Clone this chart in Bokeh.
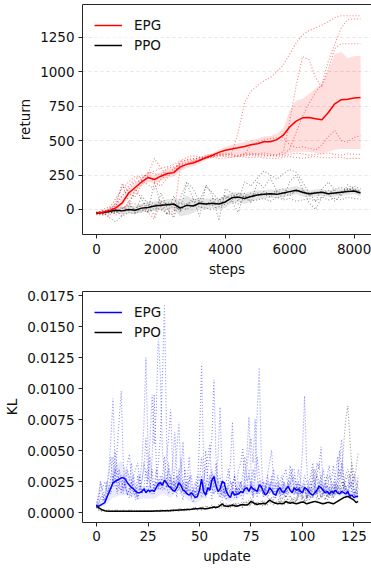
from bokeh.plotting import figure
from bokeh.layouts import column
from bokeh.models import Range1d, FixedTicker, Legend, LegendItem, LinearAxis
from bokeh.embed import file_html
from bokeh.resources import INLINE

FONT = "DejaVu Sans"
SPINE = "#262626"

# ---------------- top panel: return vs steps ----------------
STEPS = [0, 200, 400, 600, 800, 1000, 1200, 1400, 1600, 1800, 2000, 2200, 2400, 2600,
         2800, 3000, 3200, 3400, 3600, 3800, 4000, 4200, 4400, 4600, 4800, 5000, 5200,
         5400, 5600, 5800, 6000, 6200, 6400, 6600, 6800, 7000, 7200, 7400, 7600, 7800,
         8000, 8200]

EPG_MEAN = [-25, -20, -8, 12, 48, 120, 160, 200, 232, 218, 242, 262, 268, 310, 328, 338,
            356, 378, 394, 415, 430, 440, 448, 458, 470, 478, 492, 492, 508, 540, 600, 642,
            666, 668, 660, 652, 705, 768, 798, 802, 810, 814]
EPG_LO = [-35, -30, -20, -10, 20, 90, 130, 170, 200, 190, 210, 230, 240, 280, 300, 315,
          335, 360, 378, 395, 400, 405, 400, 398, 395, 395, 395, 392, 392, 395, 410, 420,
          420, 418, 410, 405, 420, 435, 440, 440, 440, 440]
EPG_HI = [-15, -10, 5, 35, 80, 150, 190, 230, 262, 250, 275, 295, 300, 340, 356, 360,
          378, 396, 410, 435, 455, 470, 480, 490, 505, 515, 530, 535, 550, 590, 720, 790,
          805, 840, 880, 915, 1010, 1130, 1145, 1100, 1115, 1118]
EPG_RUN1 = [-30, -20, 10, 80, 150, 200, 240, 230, 260, 280, 300, 310, 330, 350, 360, 370,
            375, 380, 385, 390, 395, 410, 560, 780, 860, 900, 935, 960, 1000, 1050, 1130,
            1210, 1270, 1300, 1320, 1340, 1365, 1395, 1408, 1408, 1408, 1408]
EPG_RUN2 = [-20, -40, -10, 30, 100, 170, 220, 250, 240, 200, 170, 230, 290, 350, 380, 390,
            380, 370, 390, 400, 395, 390, 385, 390, 395, 390, 388, 392, 395, 400, 440, 560,
            680, 770, 850, 910, 1080, 1200, 1320, 1380, 1385, 1385]
EPG_RUN3 = [-40, -30, -50, 20, 190, 120, 90, 180, 260, 370, 300, 250, 270, 340, 360, 370,
            365, 380, 390, 395, 400, 398, 392, 396, 400, 405, 410, 402, 398, 420, 640, 900,
            1110, 1090, 960, 890, 1020, 1170, 1205, 1205, 1205, 1205]
EPG_RUN4 = [-30, 0, 20, 0, -20, 60, 120, 220, 270, 260, 250, 300, 310, 320, 330, 350,
            360, 375, 385, 390, 385, 380, 390, 400, 470, 490, 505, 515, 520, 525, 470, 450,
            455, 445, 430, 470, 530, 575, 500, 490, 525, 535]
EPG_RUN5 = [-25, -30, -10, -40, 0, 50, 40, 20, -20, -70, 60, -30, -40, 300, 330, 350,
            360, 370, 380, 370, 375, 380, 385, 380, 378, 382, 375, 372, 370, 380, 385, 378,
            372, 380, 385, 378, 375, 380, 378, 370, 372, 370]
EPG_RUN6 = [-20, -10, 0, 40, 100, 150, 200, 210, 180, 150, 220, 260, 300, 330, 340, 360,
            380, 395, 400, 405, 410, 400, 395, 405, 410, 400, 395, 390, 385, 390, 400, 410,
            405, 395, 400, 405, 410, 400, 395, 405, 402, 400]

PPO_MEAN = [-25, -22, -15, -5, -10, 0, -5, 10, 15, 25, 30, 35, 40, 10, 30, 25, 45, 40, 45,
            40, 55, 85, 90, 80, 95, 105, 110, 115, 110, 120, 130, 140, 125, 115, 120, 125,
            115, 120, 125, 130, 135, 120]
PPO_HW = [5, 8, 15, 20, 25, 30, 30, 30, 35, 35, 35, 40, 40, 60, 70, 50, 40, 40, 35, 40, 45,
          40, 35, 40, 35, 35, 30, 30, 30, 30, 30, 30, 30, 25, 25, 25, 25, 25, 25, 25, 25, 25]
PPO_RUN1 = [-30, -20, -60, -90, -40, 20, 150, 80, -20, 200, 30, -40, 100, -20, 190, 80,
            -50, 180, 100, -80, 150, 120, 60, 200, 170, 230, 280, 250, 220, 260, 290, 270,
            200, 120, 60, 150, 200, 140, 100, 180, 150, 130]
PPO_RUN2 = [-20, -30, 0, 50, 180, 60, -30, 100, 40, -50, 120, 10, -60, 80, 200, 150, 60,
            170, 120, 70, 100, 60, -20, 120, 50, 200, 160, 230, 130, 80, 200, 250, 150, 50,
            0, 90, 120, 60, 110, 150, 140, 120]
PPO_RUN3 = [-25, -10, -20, -30, 20, -10, 10, 30, 60, 40, 20, 50, 30, -10, 40, 60, 50, 30,
            80, 60, 100, 70, 120, 90, 100, 120, 110, 90, 130, 120, 100, 140, 120, 110, 130,
            120, 140, 110, 130, 150, 140, 130]
PPO_RUN4 = [-35, -40, -30, -10, -50, -20, -30, 0, -20, 10, 0, -30, -10, 20, 0, 30, 20, 10,
            0, 20, 40, 60, 40, 80, 60, 70, 80, 60, 90, 70, 80, 60, 70, 80, 60, 90, 70, 80,
            70, 90, 80, 75]
PPO_RUN5 = [-20, -25, -10, -20, 10, 30, 0, -20, 40, 20, 60, 40, 10, 50, 30, 80, 60, 40, 30,
            50, 80, 100, 110, 90, 120, 100, 130, 110, 140, 150, 120, 130, 140, 100, 120, 130,
            110, 150, 160, 140, 170, 150]

RETURN_TICKS = [0, 250, 500, 750, 1000, 1250]
STEP_TICKS = [0, 2000, 4000, 6000, 8000]

# ---------------- bottom panel: KL vs update (values in units of 1e-4) ----------------
KL_UNIT = 1e-4
UPDATES = list(range(128))

KL_EPG_MEAN = [6, 5, 6, 7, 8, 12, 16, 20, 24, 25, 26, 27, 28, 28, 27, 24,
               22, 20, 19, 17, 16, 16, 17, 19, 16, 18, 17, 18, 17, 20, 23, 24,
               22, 26, 24, 21, 20, 18, 17, 20, 24, 22, 18, 17, 15, 14, 16, 14,
               12, 13, 18, 27, 17, 14, 20, 18, 26, 29, 22, 17, 19, 25, 24, 17,
               14, 12, 17, 14, 15, 15, 17, 16, 19, 20, 17, 21, 19, 18, 17, 22,
               21, 17, 14, 16, 20, 18, 15, 14, 18, 20, 17, 16, 19, 21, 18, 16,
               20, 18, 19, 17, 16, 20, 19, 17, 15, 14, 16, 18, 21, 20, 18, 16,
               17, 15, 17, 16, 18, 16, 15, 17, 16, 15, 17, 13, 14, 12, 13, 13]
KL_PPO_MEAN = [5, 4, 3, 2, 1.5, 1.2, 1, 1, 1, 1, 1, 1, 1, 1, 1, 1,
               1, 1, 1, 1, 1, 1, 1, 1, 1, 1, 1.1, 1.1, 1.2, 1.2, 1.3, 1.3,
               1.4, 1.4, 1.5, 1.5, 1.6, 1.7, 1.8, 1.9, 2, 2, 2.2, 2.3, 2.4, 2.5, 2.6, 2.8,
               3, 3, 3.2, 3.5, 3.2, 3, 3.3, 3.6, 4, 4.5, 4, 4.5, 5.5, 7, 5.5, 5,
               5, 5.5, 6, 5.5, 5, 5.5, 6, 6.5, 6, 6, 7, 9, 8, 7, 6.5, 7,
               7, 7.5, 7, 8.5, 10, 9, 8, 7.5, 7, 7.5, 7, 7.5, 9, 8, 7.5, 8,
               7.5, 7, 7.5, 8, 8.5, 8, 7, 7.5, 8, 8.5, 9, 8.5, 8, 7.5, 7, 7.5,
               8, 8, 7.5, 7, 8, 9, 10, 11, 12, 12.5, 13, 12, 11, 10, 8, 9]
KL_BAND_UPDATES = [0, 4, 8, 12, 16, 20, 24, 28, 32, 36, 40, 44, 48, 52, 56, 60, 64,
                   68, 72, 76, 80, 84, 88, 92, 96, 100, 104, 108, 112, 116, 120, 124, 127]
KL_EPG_BAND_HW = [1, 3, 12, 14, 8, 5, 5, 6, 7, 8, 6, 5, 5, 6, 7, 6, 5, 5, 4, 5, 5, 4, 5,
                  4, 5, 5, 4, 5, 4, 4, 4, 3, 3]

KL_EPG_RUN1 = [6, 10, 25, 12, 8, 20, 35, 60, 92, 40, 15, 22, 30, 18, 25, 14,
               20, 12, 30, 18, 10, 25, 40, 70, 125, 50, 20, 35, 15, 28, 40, 60,
               110, 168, 60, 20, 30, 15, 25, 12, 35, 18, 10, 25, 14, 30, 12, 8,
               15, 20, 60, 119, 40, 12, 18, 25, 10, 30, 22, 15, 12, 20, 18, 10,
               25, 40, 73, 30, 12, 20, 15, 10, 22, 18, 35, 20, 12, 40, 80, 117,
               45, 15, 20, 12, 18, 25, 10, 14, 20, 16, 12, 25, 18, 14, 22, 30,
               15, 20, 12, 25, 50, 94, 40, 15, 20, 12, 18, 10, 22, 16, 14, 20,
               12, 18, 25, 15, 20, 30, 45, 59, 25, 15, 18, 12, 20, 14, 16, 12]
KL_EPG_RUN2 = [5, 8, 12, 10, 15, 25, 18, 30, 45, 25, 50, 75, 98, 40, 20, 15,
               12, 25, 18, 10, 22, 30, 15, 20, 35, 25, 60, 95, 55, 80, 145, 110,
               50, 30, 20, 40, 25, 18, 35, 50, 73, 30, 20, 15, 25, 18, 12, 20,
               14, 25, 18, 30, 15, 20, 35, 45, 60, 107, 45, 20, 15, 25, 12, 18,
               22, 15, 20, 30, 12, 18, 25, 15, 30, 45, 77, 35, 15, 20, 12, 25,
               18, 14, 22, 15, 20, 30, 18, 12, 25, 15, 20, 12, 18, 25, 30, 35,
               35, 20, 15, 22, 18, 25, 12, 20, 15, 30, 18, 40, 35, 53, 20, 15,
               22, 14, 18, 25, 15, 20, 35, 28, 18, 22, 15, 25, 18, 12, 20, 15]
KL_EPG_RUN3 = [4, 6, 10, 15, 8, 12, 20, 15, 30, 22, 18, 35, 25, 15, 30, 40,
               47, 25, 15, 20, 12, 18, 25, 40, 30, 20, 15, 45, 95, 40, 20, 25,
               18, 30, 45, 60, 83, 35, 20, 25, 18, 30, 57, 25, 15, 20, 12, 18,
               25, 15, 20, 12, 18, 22, 15, 30, 20, 15, 25, 45, 85, 30, 15, 20,
               12, 18, 25, 15, 20, 35, 40, 52, 20, 15, 18, 25, 12, 20, 15, 18,
               22, 15, 20, 30, 40, 50, 25, 15, 20, 12, 18, 25, 15, 20, 25, 18,
               14, 20, 25, 15, 18, 22, 12, 15, 25, 18, 20, 15, 22, 30, 18, 25,
               30, 38, 20, 15, 25, 18, 22, 15, 20, 12, 18, 25, 35, 15, 18, 14]
KL_EPG_RUN4 = [8, 12, 18, 20, 25, 18, 15, 20, 25, 35, 30, 20, 18, 25, 20, 15,
               18, 25, 30, 35, 40, 25, 15, 20, 18, 30, 22, 15, 20, 25, 18, 30,
               25, 18, 22, 15, 20, 25, 18, 30, 22, 15, 20, 18, 25, 45, 20, 15,
               18, 12, 20, 15, 25, 35, 45, 55, 20, 15, 18, 25, 20, 12, 18, 15,
               20, 25, 18, 12, 20, 15, 25, 18, 20, 35, 50, 60, 40, 75, 30, 15,
               20, 12, 18, 25, 15, 20, 18, 12, 20, 25, 30, 15, 12, 20, 25, 35,
               20, 15, 25, 18, 15, 20, 12, 25, 30, 40, 25, 15, 20, 12, 18, 25,
               15, 20, 12, 18, 30, 45, 25, 40, 30, 18, 15, 20, 25, 18, 12, 20]
KL_EPG_RUN5 = [5, 15, 25, 18, 10, 22, 30, 45, 20, 50, 35, 25, 15, 30, 20, 35,
               25, 40, 20, 15, 30, 18, 25, 35, 60, 30, 45, 25, 20, 35, 25, 18,
               30, 45, 25, 35, 20, 40, 65, 30, 25, 45, 20, 35, 18, 25, 30, 15,
               20, 30, 25, 45, 20, 50, 25, 18, 35, 20, 40, 25, 30, 15, 20, 25,
               35, 25, 20, 30, 15, 25, 20, 30, 45, 25, 30, 20, 35, 25, 45, 30,
               20, 25, 15, 30, 20, 25, 35, 20, 30, 15, 25, 30, 35, 20, 38, 25,
               30, 20, 35, 25, 20, 30, 25, 18, 25, 35, 20, 30, 25, 20, 35, 25,
               20, 30, 25, 38, 20, 25, 50, 35, 20, 25, 30, 20, 25, 30, 20, 25]

KL_PPO_RUN1 = [5, 3, 2, 1, 1, 2, 1, 1, 2, 1, 1, 2, 1, 1, 1, 2,
               1, 2, 1, 1, 2, 1, 1, 2, 1, 2, 1, 1, 2, 1, 2, 2,
               1, 2, 2, 1, 2, 3, 2, 2, 3, 2, 2, 3, 3, 2, 3, 3,
               4, 3, 3, 5, 4, 3, 5, 4, 6, 5, 4, 6, 8, 10, 6, 5,
               7, 5, 6, 8, 6, 5, 7, 9, 6, 8, 10, 12, 8, 6, 9, 7,
               8, 10, 7, 9, 12, 10, 8, 7, 10, 12, 8, 9, 14, 10, 8, 12,
               10, 8, 15, 20, 12, 9, 10, 14, 12, 18, 25, 30, 40, 22, 15, 12,
               10, 14, 18, 12, 15, 20, 25, 30, 55, 75, 86, 60, 35, 20, 15, 30]
KL_PPO_RUN2 = [4, 2, 1, 1, 2, 1, 1, 1, 1, 2, 1, 1, 1, 2, 1, 1,
               2, 1, 1, 1, 1, 2, 1, 1, 1, 1, 2, 1, 1, 2, 1, 1,
               2, 1, 1, 2, 1, 1, 2, 2, 1, 2, 2, 1, 2, 2, 3, 2,
               3, 2, 4, 3, 2, 3, 4, 3, 3, 4, 5, 3, 4, 6, 4, 3,
               4, 6, 5, 4, 7, 5, 6, 4, 8, 6, 5, 7, 9, 6, 8, 6,
               7, 5, 8, 6, 9, 7, 6, 8, 7, 10, 8, 6, 9, 7, 8, 10,
               12, 9, 20, 15, 10, 8, 12, 15, 18, 25, 35, 28, 18, 12, 15, 20,
               30, 20, 15, 12, 18, 22, 15, 20, 25, 18, 22, 30, 20, 25, 35, 48]
KL_PPO_RUN3 = [6, 3, 2, 2, 1, 1, 2, 1, 1, 1, 2, 1, 1, 1, 1, 1,
               1, 1, 2, 1, 1, 1, 1, 2, 1, 1, 1, 2, 1, 1, 2, 1,
               1, 1, 2, 2, 1, 2, 1, 2, 2, 3, 2, 2, 3, 2, 2, 4,
               3, 4, 3, 2, 4, 5, 3, 4, 5, 4, 3, 5, 6, 4, 5, 7,
               5, 4, 6, 7, 5, 8, 6, 5, 7, 9, 7, 6, 10, 8, 6, 7,
               9, 7, 6, 8, 10, 12, 9, 7, 8, 10, 12, 9, 8, 11, 14, 10,
               8, 12, 10, 9, 14, 10, 12, 8, 15, 12, 18, 15, 10, 14, 12, 10,
               15, 12, 18, 14, 20, 15, 18, 25, 20, 30, 35, 28, 40, 32, 25, 20]

KL_TICKS = [0.0, 0.0025, 0.005, 0.0075, 0.01, 0.0125, 0.015, 0.0175]
KL_TICK_LABELS = ["0.0000", "0.0025", "0.0050", "0.0075", "0.0100", "0.0125", "0.0150", "0.0175"]
UPDATE_TICKS = [0, 25, 50, 75, 100, 125]

for arr in (EPG_MEAN, EPG_LO, EPG_HI, EPG_RUN1, EPG_RUN2, EPG_RUN3, EPG_RUN4, EPG_RUN5,
            EPG_RUN6, PPO_MEAN, PPO_HW, PPO_RUN1, PPO_RUN2, PPO_RUN3, PPO_RUN4, PPO_RUN5):
    assert len(arr) == len(STEPS), len(arr)
for arr in (KL_EPG_MEAN, KL_PPO_MEAN, KL_EPG_RUN1, KL_EPG_RUN2, KL_EPG_RUN3, KL_EPG_RUN4,
            KL_EPG_RUN5, KL_PPO_RUN1, KL_PPO_RUN2, KL_PPO_RUN3):
    assert len(arr) == len(UPDATES), len(arr)
assert len(KL_BAND_UPDATES) == len(KL_EPG_BAND_HW)


def style(p, xticks, yticks, xlabel, ylabel, ylabels=None, x_standoff=5, y_standoff=4):
    # left, bottom and top spines; the right spine lies outside the picture
    p.outline_line_color = None
    p.background_fill_color = "white"
    p.border_fill_color = "white"
    p.xgrid.grid_line_color = None
    p.xaxis.ticker = FixedTicker(ticks=xticks)
    p.yaxis.ticker = FixedTicker(ticks=yticks)
    if ylabels is not None:
        p.yaxis.major_label_overrides = {t: l for t, l in zip(yticks, ylabels)}
    p.xaxis.axis_label = xlabel
    p.yaxis.axis_label = ylabel
    for ax, st in ((p.xaxis[0], x_standoff), (p.yaxis[0], y_standoff)):
        ax.axis_line_color = SPINE
        ax.axis_line_width = 1
        ax.major_tick_out = 4
        ax.major_tick_in = 0
        ax.major_tick_line_color = SPINE
        ax.minor_tick_line_color = None
        ax.major_label_text_font = FONT
        ax.major_label_text_font_size = "13.5px"
        ax.major_label_text_color = "#111111"
        ax.axis_label_text_font = FONT
        ax.axis_label_text_font_size = "13.5px"
        ax.axis_label_text_font_style = "normal"
        ax.axis_label_text_color = "#111111"
        ax.major_label_standoff = st
        ax.axis_label_standoff = 4
    top = LinearAxis(ticker=FixedTicker(ticks=[]), axis_line_color=SPINE, axis_line_width=1,
                     major_tick_line_color=None, minor_tick_line_color=None,
                     major_label_standoff=0, major_label_text_font_size="1px")
    p.add_layout(top, "above")


def add_legend(p, r1, r2, vy):
    leg = Legend(items=[LegendItem(label="EPG", renderers=[r1]),
                        LegendItem(label="PPO", renderers=[r2])],
                 location=(12, vy), padding=2, margin=0, spacing=0,
                 glyph_width=28, glyph_height=20, label_height=20, label_standoff=12,
                 label_text_font=FONT, label_text_font_size="13.5px",
                 label_text_color="#111111",
                 border_line_color=None, background_fill_color="white",
                 background_fill_alpha=0.6)
    p.add_layout(leg)


# ---------------- top figure ----------------
p1 = figure(width=371, height=280, x_range=Range1d(-435, 8540), y_range=Range1d(-181.7, 1489.8),
            output_backend="svg", toolbar_location=None,
            min_border_left=82, min_border_right=0, min_border_top=4, min_border_bottom=46)
style(p1, STEP_TICKS, RETURN_TICKS, "steps", "return", x_standoff=5, y_standoff=4)
p1.ygrid.grid_line_color = "#dcdcdc"
p1.ygrid.grid_line_dash = "3 3"
p1.ygrid.grid_line_width = 0.8

ppo_lo = [m - h for m, h in zip(PPO_MEAN, PPO_HW)]
ppo_hi = [m + h for m, h in zip(PPO_MEAN, PPO_HW)]
p1.varea(x=STEPS, y1=EPG_LO, y2=EPG_HI, fill_color="#ff0000", fill_alpha=0.13)
p1.varea(x=STEPS, y1=ppo_lo, y2=ppo_hi, fill_color="#000000", fill_alpha=0.1)
for run in (EPG_RUN1, EPG_RUN2, EPG_RUN3, EPG_RUN4, EPG_RUN5, EPG_RUN6):
    p1.line(STEPS, run, line_color="#ff0000", line_alpha=0.5, line_width=1.1, line_dash="1 2")
for run in (PPO_RUN1, PPO_RUN2, PPO_RUN3, PPO_RUN4, PPO_RUN5):
    p1.line(STEPS, run, line_color="#000000", line_alpha=0.42, line_width=1.1, line_dash="1 2")
r_ppo = p1.line(STEPS, PPO_MEAN, line_color="#000000", line_width=1.5)
r_epg = p1.line(STEPS, EPG_MEAN, line_color="#ff0000", line_width=1.5)
add_legend(p1, r_epg, r_ppo, 179)

# ---------------- bottom figure ----------------
p2 = figure(width=371, height=286, x_range=Range1d(-6.8, 133.5),
            y_range=Range1d(-0.000806, 0.017823),
            output_backend="svg", toolbar_location=None,
            min_border_left=82, min_border_right=0, min_border_top=11, min_border_bottom=44)
style(p2, UPDATE_TICKS, KL_TICKS, "update", "KL", KL_TICK_LABELS, x_standoff=4, y_standoff=4)
p2.ygrid.grid_line_color = None

kl = lambda arr: [v * KL_UNIT for v in arr]
band_mean = [KL_EPG_MEAN[u] for u in KL_BAND_UPDATES]
p2.varea(x=KL_BAND_UPDATES, y1=kl([m - h for m, h in zip(band_mean, KL_EPG_BAND_HW)]),
         y2=kl([m + h for m, h in zip(band_mean, KL_EPG_BAND_HW)]),
         fill_color="#0000ff", fill_alpha=0.08)
for run in (KL_EPG_RUN1, KL_EPG_RUN2, KL_EPG_RUN3, KL_EPG_RUN4, KL_EPG_RUN5):
    p2.line(UPDATES, kl(run), line_color="#0000ff", line_alpha=0.45, line_width=1.1, line_dash="1 2")
for run in (KL_PPO_RUN1, KL_PPO_RUN2, KL_PPO_RUN3):
    p2.line(UPDATES, kl(run), line_color="#000000", line_alpha=0.42, line_width=1.1, line_dash="1 2")
r2_ppo = p2.line(UPDATES, kl(KL_PPO_MEAN), line_color="#000000", line_width=1.5)
r2_epg = p2.line(UPDATES, kl(KL_EPG_MEAN), line_color="#0000ff", line_width=1.5)
add_legend(p2, r2_epg, r2_ppo, 180)

layout = column(p1, p2, spacing=0)
open("out.html", "w").write(file_html(layout, INLINE))
